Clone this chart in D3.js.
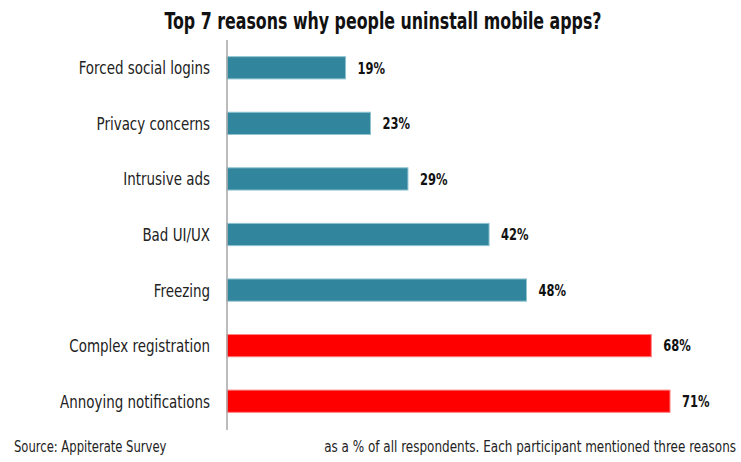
<!DOCTYPE html>
<html>
<head>
<meta charset="utf-8">
<script src="https://cdn.jsdelivr.net/npm/d3@7"></script>
<style>
  html, body { margin: 0; padding: 0; background: #fff; }
  svg { display: block; }
</style>
</head>
<body>
<svg id="chart"></svg>
<script>
// ── Data ─────────────────────────────────────────────
const reasons = ['Forced social logins', 'Privacy concerns', 'Intrusive ads', 'Bad UI/UX',
                 'Freezing', 'Complex registration', 'Annoying notifications'];
const shares  = [19, 23, 29, 42, 48, 68, 71];
const highlighted = ['Complex registration', 'Annoying notifications'];

const W = 741, H = 462;
// no condensed face installed, so squeeze a regular one horizontally
const FONT = '"DejaVu Sans Condensed", "DejaVu Sans", sans-serif';
const SQUEEZE = 0.83;

const svg = d3.select('#chart').attr('width', W).attr('height', H);

// ── Scales ───────────────────────────────────────────
const x = d3.scaleLinear().domain([0, 71]).range([227, 670]);
const y = d3.scaleBand().domain(reasons).range([40, 429]).paddingInner(0.6).paddingOuter(0.3);

// ── Bars ─────────────────────────────────────────────
svg.selectAll('.bar')
  .data(reasons)
  .join('rect')
    .attr('class', 'bar')
    .attr('x', x(0))
    .attr('y', d => y(d))
    .attr('width', (d, i) => x(shares[i]) - x(0))
    .attr('height', y.bandwidth())
    .attr('fill', d => highlighted.includes(d) ? '#ff0000' : '#31859c')
    .attr('stroke', d => highlighted.includes(d) ? '#ff8080' : '#8fc3d1')
    .attr('stroke-width', 1);

// value labels
svg.selectAll('.val')
  .data(reasons)
  .join('text')
    .attr('class', 'val')
    .attr('transform', (d, i) =>
      `translate(${x(shares[i]) + 12},${y(d) + y.bandwidth() / 2}) scale(0.8,1)`)
    .attr('dy', '0.36em')
    .attr('font-family', FONT)
    .attr('font-weight', 'bold')
    .attr('font-size', 16)
    .attr('fill', '#111')
    .text((d, i) => `${shares[i]}%`);

// ── Axis ─────────────────────────────────────────────
svg.append('line')
  .attr('x1', x(0)).attr('x2', x(0))
  .attr('y1', 40).attr('y2', 430)
  .attr('stroke', '#a6a6a6')
  .attr('stroke-width', 1.5);

svg.selectAll('.cat')
  .data(reasons)
  .join('text')
    .attr('class', 'cat')
    .attr('transform', d => `translate(210,${y(d) + y.bandwidth() / 2}) scale(${SQUEEZE},1)`)
    .attr('dy', '0.36em')
    .attr('text-anchor', 'end')
    .attr('font-family', FONT)
    .attr('font-size', 18)
    .attr('fill', '#222')
    .text(d => d);

// ── Title & notes ────────────────────────────────────
svg.append('text')
  .attr('x', 383).attr('y', 29)
  .attr('text-anchor', 'middle')
  .attr('font-family', FONT)
  .attr('font-weight', 'bold')
  .attr('font-size', 23)
  .attr('textLength', 437)
  .attr('lengthAdjust', 'spacingAndGlyphs')
  .attr('fill', '#111')
  .text('Top 7 reasons why people uninstall mobile apps?');

const notes = svg.append('g')
  .attr('font-family', FONT)
  .attr('font-size', 15)
  .attr('fill', '#222');

notes.append('text')
  .attr('transform', 'translate(14,452) scale(0.86,1)')
  .text('Source: Appiterate Survey');

notes.append('text')
  .attr('transform', 'translate(736,452) scale(0.89,1)')
  .attr('text-anchor', 'end')
  .text('as a % of all respondents. Each participant  mentioned three  reasons');
</script>
</body>
</html>
